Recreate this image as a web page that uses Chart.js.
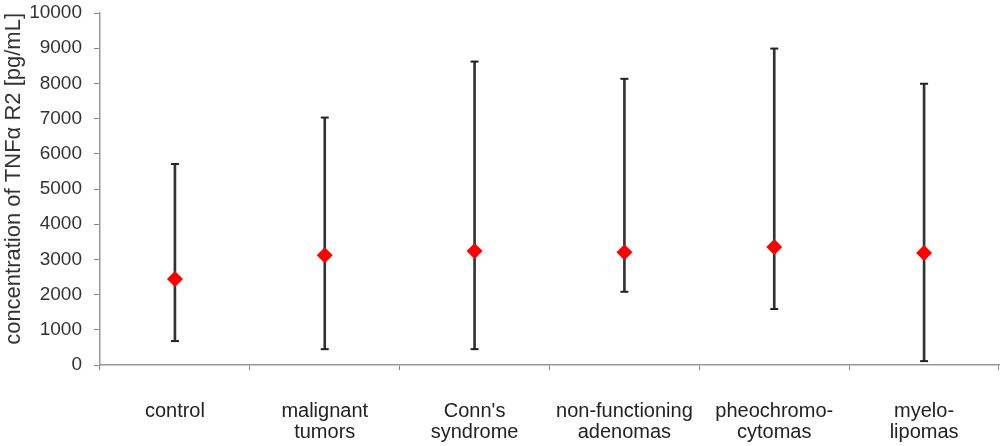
<!DOCTYPE html>
<html>
<head>
<meta charset="utf-8">
<script src="https://cdn.jsdelivr.net/npm/chart.js@4"></script>
<style>
html,body{margin:0;padding:0;background:#fff;}
canvas{display:block;}
</style>
</head>
<body>
<canvas id="c" width="1000" height="446" style="width:1000px;height:446px;"></canvas>
<script>
const categories = [
  "control",
  ["malignant", "tumors"],
  ["Conn's", "syndrome"],
  ["non-functioning", "adenomas"],
  ["pheochromo-", "cytomas"],
  ["myelo-", "lipomas"]
];
const meanValues = [2440, 3120, 3240, 3200, 3350, 3180];
const minValues  = [680, 450, 450, 2080, 1590, 110];
const maxValues  = [5710, 7030, 8620, 8130, 8990, 7990];
const yTicks = [0, 1000, 2000, 3000, 4000, 5000, 6000, 7000, 8000, 9000, 10000];
const yTitle = "concentration of TNFα R2 [pg/mL]";

const ranges = minValues.map((v, i) => [v, maxValues[i]]);
const family = "'Liberation Sans', Arial, sans-serif";

new Chart(document.getElementById('c'), {
  type: 'bar',
  data: {
    labels: categories,
    datasets: [
      { type: 'line', data: meanValues, showLine: false, pointStyle: 'rectRot',
        pointRadius: 8, pointBackgroundColor: '#ff0000', pointBorderColor: '#ff0000',
        pointBorderWidth: 0, order: 0 },
      { type: 'line', data: maxValues, showLine: false, pointStyle: 'line',
        pointRadius: 4, pointBorderColor: '#222', pointBorderWidth: 2, order: 1 },
      { type: 'line', data: minValues, showLine: false, pointStyle: 'line',
        pointRadius: 4, pointBorderColor: '#222', pointBorderWidth: 2, order: 1 },
      { type: 'bar', data: ranges, backgroundColor: '#333', borderWidth: 0,
        barThickness: 2, order: 2 }
    ]
  },
  options: {
    responsive: false,
    animation: false,
    devicePixelRatio: 1,
    layout: { autoPadding: false, padding: { top: 0, right: 1, left: 0, bottom: 0 } },
    plugins: { legend: { display: false }, tooltip: { enabled: false } },
    scales: {
      x: {
        offset: true,
        afterFit: (s) => { s.height = 81; s.paddingRight = 0; s.paddingLeft = 0; },
        grid: { offset: true, drawOnChartArea: false, drawTicks: true, tickLength: 5, color: '#888' },
        border: { color: '#999', width: 1.5 },
        ticks: { color: '#222', font: { family: family, size: 20, lineHeight: 1.05 },
                 padding: 31, maxRotation: 0, autoSkip: false }
      },
      y: {
        min: 0, max: 10000,
        afterFit: (s) => { s.width = 100; s.paddingTop = 13; s.paddingBottom = 0; },
        afterBuildTicks: (s) => { s.ticks = yTicks.map(v => ({ value: v })); },
        grid: { drawOnChartArea: false, drawTicks: true, tickLength: 6, color: '#888' },
        border: { color: '#999', width: 1.5 },
        ticks: { color: '#333', font: { family: family, size: 19 }, padding: 12,
                 callback: (v) => String(v) },
        title: { display: true, text: yTitle, color: '#333', align: 'end',
                 font: { family: family, size: 22 }, padding: { top: 1, bottom: 2 } }
      }
    }
  }
});
</script>
</body>
</html>
